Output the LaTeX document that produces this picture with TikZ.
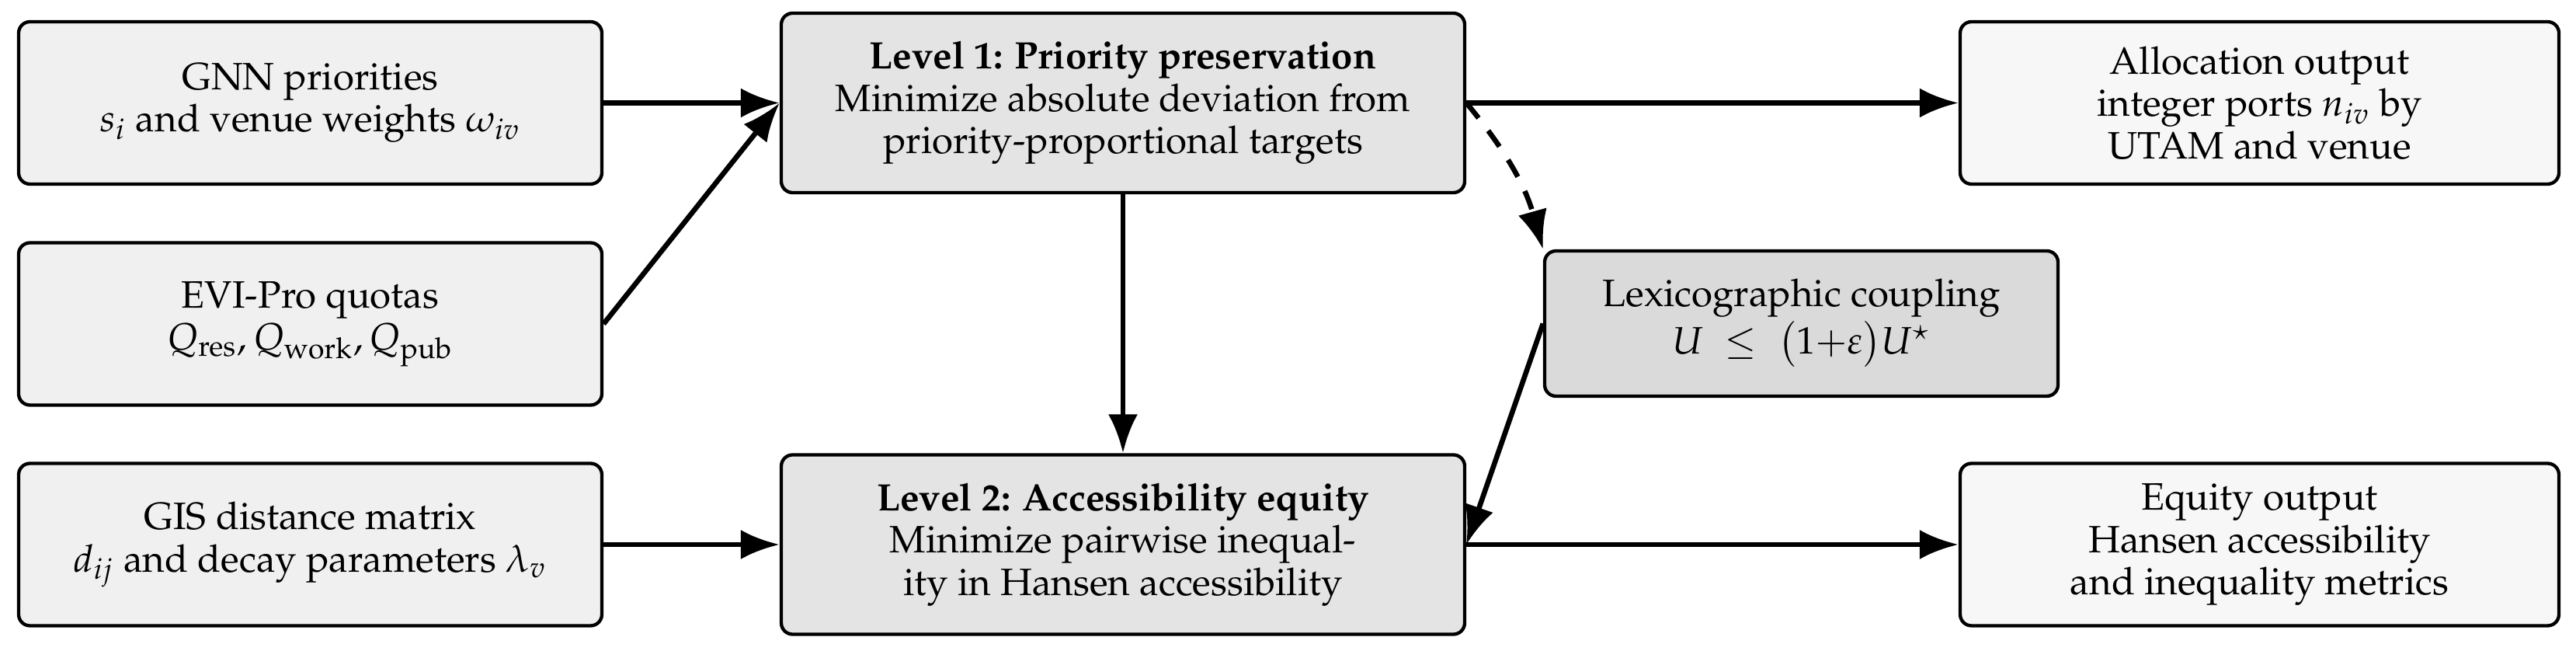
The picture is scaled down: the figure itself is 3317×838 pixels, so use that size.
\documentclass[tikz,border=0pt]{standalone}
\usepackage[T1]{fontenc}
\usepackage{mathpazo}
\usetikzlibrary{arrows.meta}
\definecolor{inputfill}{HTML}{F0F0F0}
\definecolor{levelfill}{HTML}{E4E4E4}
\definecolor{lexfill}{HTML}{DADADA}
\definecolor{outfill}{HTML}{F7F7F7}
\begin{document}
\begin{tikzpicture}[x=0.21978pt,y=-0.21978pt,
  box/.style={draw, line width=0.95pt, rounded corners=3.2pt, align=center, inner sep=2pt,
    font=\fontsize{10.8}{12}\selectfont},
  inbox/.style={box, fill=inputfill, minimum width=165.06pt, minimum height=45.93pt},
  levelbox/.style={box, fill=levelfill, minimum width=193.41pt, minimum height=50.77pt},
  lexbox/.style={box, fill=lexfill, minimum width=145.28pt, minimum height=41.10pt},
  outbox/.style={box, fill=outfill, minimum width=169.45pt, minimum height=45.93pt},
  flow/.style={line width=1.45pt, -{Latex[length=11pt,width=8.4pt]}},
  dflow/.style={flow, dash pattern=on 5.5pt off 4.5pt},
]
\fill[white] (0,0) rectangle (3317,838);
\useasboundingbox (0,0) rectangle (3317,838);

\node[inbox] (gnn) at (399.5,132.5) {GNN priorities\\ $s_i$ and venue weights $\omega_{iv}$};
\node[inbox] (evi) at (399.5,417) {EVI-Pro quotas\\ $Q_{\mathrm{res}}, Q_{\mathrm{work}}, Q_{\mathrm{pub}}$};
\node[inbox] (gis) at (399.5,701) {GIS distance matrix\\ $d_{ij}$ and decay parameters $\lambda_v$};

\node[levelbox] (l1) at (1446,132.5) {\textbf{Level 1: Priority preservation}\\ Minimize absolute deviation from\\ priority-proportional targets};
\node[levelbox] (l2) at (1446,701) {\textbf{Level 2: Accessibility equity}\\ Minimize pairwise inequal-\\ity in Hansen accessibility};

\node[lexbox] (lex) at (2319.5,416.5) {Lexicographic coupling\\ $U \;\leq\; \bigl(1{+}\varepsilon\bigr)U^{\star}$};

\node[outbox] (alloc) at (2909.5,132.5) {Allocation output\\ integer ports $n_{iv}$ by\\ UTAM and venue};
\node[outbox] (equity) at (2909.5,701) {Equity output\\ Hansen accessibility\\ and inequality metrics};

\draw[flow] (gnn.east) -- (l1.west);
\draw[flow] (evi.east) -- (l1.west);
\draw[flow] (gis.east) -- (l2.west);
\draw[flow] (l1.south) -- (l2.north);
\draw[flow] (l1.east) -- (alloc.west);
\draw[flow] (l2.east) -- (equity.west);
\draw[dflow] (l1.east) to[bend left=12] (lex.north west);
\draw[flow] (lex.west) -- (l2.east);
\end{tikzpicture}
\end{document}
